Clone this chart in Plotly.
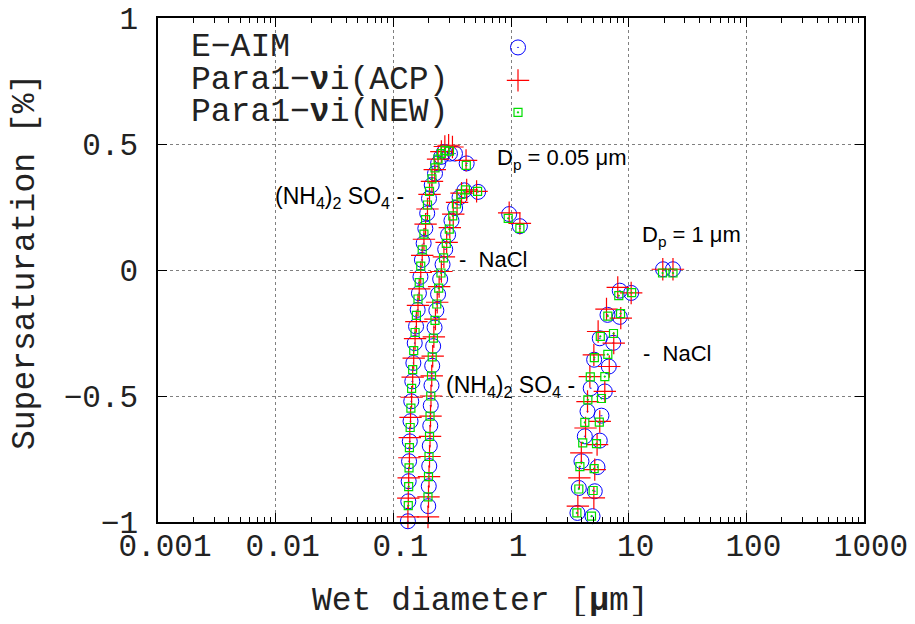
import plotly.graph_objects as go

# ---------------- data (wet diameter [um], supersaturation [%]) ----------------
# dry Dp = 0.05 um, (NH4)2SO4
A05_EAIM_D = [0.133,0.134,0.135,0.136,0.138,0.140,0.142,0.145,0.148,0.152,0.156,0.161,0.165,0.170,0.175,0.181,0.187,0.194,0.201,0.212,0.226,0.240,0.255,0.270,0.303,0.334,0.420,0.965]
A05_EAIM_S = [-0.997,-0.918,-0.838,-0.759,-0.680,-0.600,-0.521,-0.442,-0.369,-0.290,-0.224,-0.158,-0.092,-0.027,0.040,0.106,0.165,0.225,0.284,0.337,0.383,0.423,0.449,0.468,0.462,0.462,0.423,0.222]
A05_ACP_D = [0.133,0.134,0.135,0.137,0.138,0.140,0.143,0.146,0.149,0.153,0.157,0.162,0.166,0.171,0.176,0.182,0.188,0.195,0.203,0.213,0.225,0.240,0.256,0.274,0.295,0.318,0.415,0.965]
A05_ACP_S = [-0.980,-0.905,-0.825,-0.745,-0.665,-0.585,-0.505,-0.425,-0.350,-0.272,-0.205,-0.140,-0.075,-0.010,0.058,0.122,0.182,0.242,0.300,0.352,0.398,0.440,0.470,0.490,0.495,0.488,0.435,0.227]
A05_NEW_D = [0.134,0.135,0.136,0.137,0.139,0.141,0.143,0.146,0.149,0.153,0.157,0.162,0.166,0.171,0.176,0.182,0.188,0.195,0.203,0.213,0.226,0.240,0.256,0.275,0.300,0.417,0.947]
A05_NEW_S = [-0.935,-0.860,-0.785,-0.705,-0.625,-0.548,-0.470,-0.395,-0.320,-0.248,-0.180,-0.115,-0.050,0.015,0.080,0.142,0.200,0.258,0.312,0.362,0.405,0.440,0.462,0.475,0.472,0.415,0.205]

# dry Dp = 0.05 um, NaCl
N05_EAIM_D = [0.198,0.200,0.202,0.204,0.206,0.208,0.211,0.214,0.218,0.224,0.232,0.240,0.250,0.262,0.276,0.292,0.312,0.335,0.365,0.402,0.525,1.19]
N05_EAIM_S = [-0.937,-0.858,-0.778,-0.698,-0.618,-0.538,-0.458,-0.380,-0.302,-0.228,-0.160,-0.096,-0.036,0.022,0.082,0.140,0.196,0.246,0.288,0.316,0.310,0.174]
N05_ACP_D = [0.197,0.199,0.201,0.203,0.205,0.207,0.209,0.212,0.216,0.221,0.228,0.236,0.245,0.256,0.269,0.284,0.302,0.323,0.348,0.380,0.420,0.510,1.19]
N05_ACP_S = [-0.980,-0.900,-0.820,-0.740,-0.660,-0.580,-0.500,-0.420,-0.342,-0.265,-0.195,-0.128,-0.066,-0.006,0.052,0.110,0.168,0.222,0.268,0.305,0.318,0.312,0.185]
N05_NEW_D = [0.197,0.199,0.201,0.203,0.205,0.208,0.211,0.214,0.219,0.226,0.234,0.243,0.254,0.267,0.282,0.299,0.320,0.344,0.375,0.410,0.520,1.19]
N05_NEW_S = [-0.900,-0.820,-0.740,-0.660,-0.580,-0.500,-0.420,-0.345,-0.270,-0.200,-0.135,-0.072,-0.012,0.048,0.106,0.162,0.215,0.262,0.300,0.318,0.312,0.165]

# dry Dp = 1 um, (NH4)2SO4
A1_EAIM_D = [3.67,3.77,3.97,4.24,4.47,4.76,5.09,5.68,6.61,8.40,19.6]
A1_EAIM_S = [-0.964,-0.865,-0.759,-0.660,-0.561,-0.469,-0.356,-0.271,-0.178,-0.082,0.003]
A1_ACP_D = [3.70,3.81,3.96,4.30,4.47,4.68,5.06,5.50,6.48,8.08,19.5]
A1_ACP_S = [-0.937,-0.825,-0.726,-0.627,-0.522,-0.423,-0.337,-0.244,-0.155,-0.069,0.003]
A1_NEW_D = [3.63,3.77,3.85,4.07,4.24,4.50,4.72,5.11,5.74,6.65,8.24,19.4]
A1_NEW_S = [-0.964,-0.869,-0.780,-0.686,-0.605,-0.515,-0.424,-0.348,-0.263,-0.183,-0.102,-0.012]

# dry Dp = 1 um, NaCl
N1_EAIM_D = [4.93,5.15,5.43,5.68,5.87,6.27,6.78,7.40,8.40,10.5,23.8]
N1_EAIM_S = [-0.977,-0.878,-0.782,-0.677,-0.578,-0.482,-0.383,-0.289,-0.186,-0.091,0.003]
N1_ACP_D = [5.06,5.15,5.39,5.68,6.27,6.84,7.47,8.57,10.5,23.8]
N1_ACP_S = [-0.904,-0.792,-0.693,-0.601,-0.482,-0.383,-0.290,-0.191,-0.091,0.003]
N1_NEW_D = [4.83,4.99,5.09,5.33,5.63,5.87,6.27,6.65,7.43,8.53,10.6,23.8]
N1_NEW_S = [-0.977,-0.875,-0.788,-0.689,-0.604,-0.510,-0.423,-0.335,-0.252,-0.173,-0.090,-0.012]

SERIES_NAMES = ["E\u2212AIM", "Para1\u2212<b>\u03bd</b>i(ACP)", "Para1\u2212<b>\u03bd</b>i(NEW)"]
X_TICKS = [0.001, 0.01, 0.1, 1, 10, 100, 1000]
X_TICKTEXT = ["0.001", "0.01", "0.1", "1", "10", "100", "1000"]
Y_TICKS = [-1, -0.5, 0, 0.5, 1]

# ---------------- figure ----------------
# the page body has an 8px margin, so the figure is a bit smaller than the window
OFF = 8
W, H = 915 - 2 * OFF, 624 - 2 * OFF
X0, X1, Y0, Y1 = 158, 864, 17.5, 522.5   # plot box in window pixels
PW, PH = X1 - X0, Y1 - Y0
L, T = X0 - OFF, Y0 - OFF
R, B = W - (X1 - OFF), H - (Y1 - OFF)

def px_x(x):
    return (x - X0) / PW

def px_y(y):
    return (Y1 - y) / PH

MONO = "Liberation Mono"
SANS = "Liberation Sans"
TXT = "#222222"

styles = [
    dict(symbol="circle-open-dot", size=15, color="#0000ff", line=dict(width=1, color="#0000ff")),
    dict(symbol="cross-thin-open", size=16, color="#ff0000", line=dict(width=1.2, color="#ff0000")),
    dict(symbol="square-open-dot", size=8, color="#00dd00", line=dict(width=1.2, color="#00dd00")),
]

data_sets = [
    (A05_EAIM_D + N05_EAIM_D + A1_EAIM_D + N1_EAIM_D, A05_EAIM_S + N05_EAIM_S + A1_EAIM_S + N1_EAIM_S),
    (A05_ACP_D + N05_ACP_D + A1_ACP_D + N1_ACP_D, A05_ACP_S + N05_ACP_S + A1_ACP_S + N1_ACP_S),
    (A05_NEW_D + N05_NEW_D + A1_NEW_D + N1_NEW_D, A05_NEW_S + N05_NEW_S + A1_NEW_S + N1_NEW_S),
]

fig = go.Figure()
for (xd, yd), st, nm in zip(data_sets, styles, SERIES_NAMES):
    fig.add_trace(go.Scatter(x=xd, y=yd, mode="markers", marker=st, name=nm,
                             cliponaxis=False, showlegend=False))

# legend (symbols on the right of the text, gnuplot style)
leg_y = [47, 80, 112]
for st, nm, yy in zip(styles, SERIES_NAMES, leg_y):
    fig.add_trace(go.Scatter(x=[px_x(518)], y=[px_y(yy)], mode="markers", marker=st,
                             xaxis="x2", yaxis="y2", cliponaxis=False, showlegend=False,
                             hoverinfo="skip"))
    fig.add_annotation(x=px_x(189), y=px_y(yy), xref="paper", yref="paper", text=nm,
                       showarrow=False, xanchor="left", yanchor="middle",
                       font=dict(family=MONO, size=33, color=TXT))

minor_vals = [m * 10 ** e for e in range(-3, 3) for m in range(2, 10)]

fig.update_layout(
    width=W, height=H,
    margin=dict(l=L, r=R, t=T, b=B, autoexpand=False),
    plot_bgcolor="white", paper_bgcolor="white",
    showlegend=False,
    xaxis=dict(type="log", range=[-3, 3], tickmode="array", tickvals=X_TICKS, ticktext=X_TICKTEXT,
               ticks="inside", ticklen=9, tickwidth=1, tickcolor="black",
               showline=True, linecolor="black", linewidth=1.5, mirror="allticks",
               showgrid=True, gridcolor="#808080", griddash="dot", gridwidth=1,
               minor=dict(tickmode="array", tickvals=minor_vals, ticks="inside", ticklen=5,
                          tickcolor="black", tickwidth=1, showgrid=False),
               tickfont=dict(family=MONO, size=31, color=TXT), zeroline=False,
               ticklabelstandoff=-5, ticklabelshift=7, ticklabeloverflow="allow",
               automargin=False),
    yaxis=dict(range=[-1, 1], tickmode="array", tickvals=Y_TICKS,
               ticks="inside", ticklen=9, tickwidth=1, tickcolor="black",
               showline=True, linecolor="black", linewidth=1.5, mirror="allticks",
               showgrid=True, gridcolor="#808080", griddash="dot", gridwidth=1,
               tickfont=dict(family=MONO, size=31, color=TXT), zeroline=False,
               ticklabelstandoff=12, ticklabeloverflow="allow", automargin=False),
    xaxis2=dict(overlaying="x", range=[0, 1], visible=False, automargin=False),
    yaxis2=dict(overlaying="y", range=[0, 1], visible=False, automargin=False),
)

# axis titles
fig.add_annotation(x=px_x(480), y=px_y(602), xref="paper", yref="paper",
                   text="Wet diameter [<b>\u03bc</b>m]", showarrow=False,
                   xanchor="center", yanchor="middle", font=dict(family=MONO, size=33, color=TXT))
fig.add_annotation(x=px_x(25), y=px_y(262), xref="paper", yref="paper",
                   text="Supersaturation [%]", showarrow=False, textangle=-90,
                   xanchor="center", yanchor="middle", font=dict(family=MONO, size=33, color=TXT))

# in-plot labels
sub = "(NH<sub>4</sub>)<sub>2</sub> SO<sub>4</sub>\u00a0-"
labels = [
    ("D<sub>p</sub> = 0.05 \u03bcm", 495, 159, "left", 22),
    (sub, 406, 197, "right", 23),
    ("-\u00a0\u00a0NaCl", 457, 259, "left", 22),
    ("D<sub>p</sub> = 1 \u03bcm", 640, 236, "left", 22),
    ("-\u00a0\u00a0NaCl", 641, 354, "left", 22),
    (sub, 577, 387, "right", 23),
]
for txt, xx, yy, anc, fs in labels:
    fig.add_annotation(x=px_x(xx), y=px_y(yy), xref="paper", yref="paper", text=txt,
                       showarrow=False, xanchor=anc, yanchor="middle",
                       font=dict(family=SANS, size=fs, color="black"))

fig.write_html("out.html")
